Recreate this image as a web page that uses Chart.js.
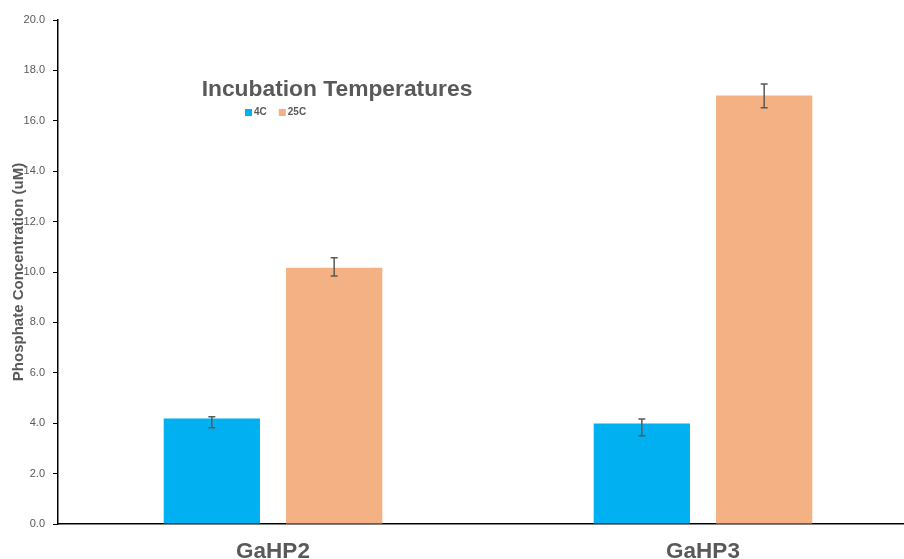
<!DOCTYPE html>
<html>
<head>
<meta charset="utf-8">
<script src="https://cdn.jsdelivr.net/npm/chart.js@4.4.0/dist/chart.umd.min.js"></script>
<style>
  html, body { margin: 0; padding: 0; background: #fff; overflow: hidden; }
  #wrap { position: relative; width: 918px; height: 559px; }
</style>
</head>
<body>
<div id="wrap"><canvas id="chart"></canvas></div>
<script>
const categories = ['GaHP2', 'GaHP3'];
const series4C   = [4.19, 3.99];
const series25C  = [10.17, 17.0];
const err4CLow   = [3.82, 3.50];
const err4CHigh  = [4.26, 4.17];
const err25CLow  = [9.84, 16.52];
const err25CHigh = [10.57, 17.46];
const yTicks     = [0, 2, 4, 6, 8, 10, 12, 14, 16, 18, 20];

const TEXT_GRAY = '#595959';

// error bars drawn from each dataset's low/high arrays
const errorBarPlugin = {
  id: 'errorBars',
  afterDatasetsDraw(chart) {
    const ctx = chart.ctx;
    const yScale = chart.scales.y;
    chart.data.datasets.forEach((ds, di) => {
      const meta = chart.getDatasetMeta(di);
      meta.data.forEach((bar, i) => {
        const yLo = yScale.getPixelForValue(ds.errLow[i]);
        const yHi = yScale.getPixelForValue(ds.errHigh[i]);
        ctx.save();
        ctx.strokeStyle = TEXT_GRAY;
        ctx.lineWidth = 1.5;
        ctx.beginPath();
        ctx.moveTo(bar.x, yLo); ctx.lineTo(bar.x, yHi);
        ctx.moveTo(bar.x - 3.5, yLo); ctx.lineTo(bar.x + 3.5, yLo);
        ctx.moveTo(bar.x - 3.5, yHi); ctx.lineTo(bar.x + 3.5, yHi);
        ctx.stroke();
        ctx.restore();
      });
    });
  }
};

// title + legend block placed inside the plot like the original
const titleLegendPlugin = {
  id: 'titleLegend',
  afterDraw(chart) {
    const ctx = chart.ctx;
    ctx.save();
    ctx.fillStyle = TEXT_GRAY;
    ctx.font = 'bold 22.8px "Liberation Sans", Arial, sans-serif';
    ctx.textAlign = 'center';
    ctx.textBaseline = 'alphabetic';
    ctx.fillText('Incubation Temperatures', 337, 96);

    ctx.font = 'bold 10px "Liberation Sans", Arial, sans-serif';
    ctx.textAlign = 'left';
    ctx.textBaseline = 'middle';
    let x = 245;
    const y = 112.5;
    chart.data.datasets.forEach(ds => {
      ctx.fillStyle = ds.backgroundColor;
      ctx.fillRect(x, y - 3.5, 7, 7);
      ctx.fillStyle = TEXT_GRAY;
      ctx.fillText(ds.label, x + 9, y);
      x += 9 + ctx.measureText(ds.label).width + 12;
    });
    ctx.restore();
  }
};

new Chart(document.getElementById('chart').getContext('2d'), {
  type: 'bar',
  data: {
    labels: categories,
    datasets: [
      {
        label: '4C',
        data: series4C,
        errLow: err4CLow,
        errHigh: err4CHigh,
        backgroundColor: '#00B0F0',
        categoryPercentage: 0.569,
        barPercentage: 0.787,
      },
      {
        label: '25C',
        data: series25C,
        errLow: err25CLow,
        errHigh: err25CHigh,
        backgroundColor: '#F4B183',
        categoryPercentage: 0.569,
        barPercentage: 0.787,
      }
    ]
  },
  options: {
    responsive: true,
    maintainAspectRatio: false,
    animation: false,
    layout: { padding: { top: 20, left: 0, right: 0, bottom: 0 } },
    plugins: {
      legend: { display: false },
      title: { display: false },
      tooltip: { enabled: false }
    },
    scales: {
      x: {
        grid: { display: false, drawTicks: false },
        border: { display: true, color: '#000', width: 1.5 },
        ticks: {
          color: TEXT_GRAY,
          padding: 14,
          font: { family: '"Liberation Sans", Arial, sans-serif', size: 22.5, weight: 'bold' }
        },
        afterFit: s => { s.height = 35; }
      },
      y: {
        min: 0,
        max: 20,
        afterBuildTicks: s => { s.ticks = yTicks.map(v => ({ value: v })); },
        grid: { drawOnChartArea: false, drawTicks: true, tickLength: 5, color: '#000', lineWidth: 1 },
        border: { display: true, color: '#000', width: 1.5 },
        ticks: {
          color: TEXT_GRAY,
          padding: 8,
          font: { family: '"Liberation Sans", Arial, sans-serif', size: 11 },
          callback: v => Number(v).toFixed(1)
        },
        title: {
          display: true,
          text: 'Phosphate Concentration (uM)',
          color: TEXT_GRAY,
          font: { family: '"Liberation Sans", Arial, sans-serif', size: 15, weight: 'bold' },
          padding: { top: 10, bottom: 0 }
        },
        afterFit: s => { s.width = 58; }
      }
    }
  },
  plugins: [errorBarPlugin, titleLegendPlugin]
});
</script>
</body>
</html>
